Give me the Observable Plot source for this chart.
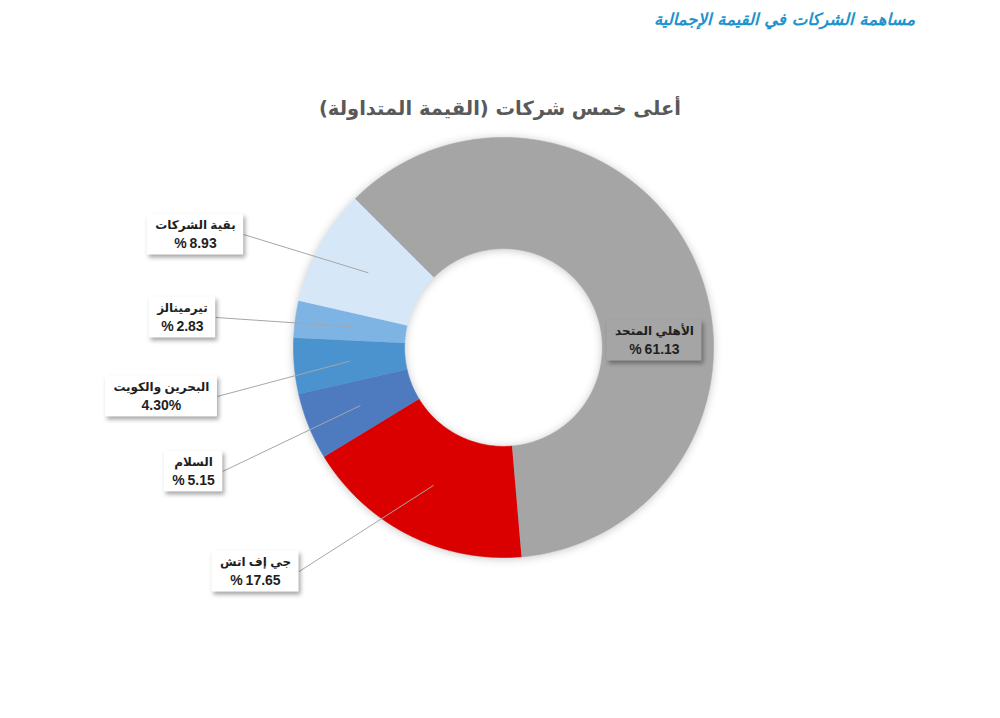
<!DOCTYPE html>
<html lang="ar">
<head>
<meta charset="utf-8">
<script src="https://cdn.jsdelivr.net/npm/d3@7"></script>
<script src="https://cdn.jsdelivr.net/npm/@observablehq/plot@0.6"></script>
<style>
  body { margin: 0; background: #ffffff; }
  #head { position: relative; width: 1000px; height: 130px; }
  #t1 { position: absolute; right: 85px; top: 10px; font: italic bold 16.5px "DejaVu Sans", sans-serif; color: #1E93CC; white-space: nowrap; }
  #t2 { position: absolute; left: 0; width: 1000px; top: 97px; text-align: center; font: bold 19.5px "DejaVu Sans", sans-serif; color: #595959; white-space: nowrap; }
  #chart { width: 1000px; }
</style>
</head>
<body>
<div id="head">
  <div id="t1" dir="rtl">مساهمة الشركات في القيمة الإجمالية</div>
  <div id="t2" dir="rtl">أعلى خمس شركات (القيمة المتداولة)</div>
</div>
<div id="chart"></div>
<script>
// ---- data ----
const names = ["الأهلي المتحد", "جي إف اتش", "السلام", "البحرين والكويت", "تيرمينالز", "بقية الشركات"];
const shares = [61.13, 17.65, 5.15, 4.30, 2.83, 8.93];
const shareLabels = ["%\u200961.13", "%\u200917.65", "%\u20095.15", "4.30%", "%\u20092.83", "%\u20098.93"];
const colors = ["#A5A5A5", "#DA0000", "#4E7AC0", "#4A93CF", "#7DB4E4", "#D6E7F8"];
// label box centres (in donut radius units, manual placement as in the original)
const labelAnchors = [[0.719, 0.033], [-1.181, -1.067], [-1.476, -0.590], [-1.629, -0.233], [-1.529, 0.143], [-1.467, 0.538]];

// ---- layout ----
const W = 1000, H = 588;
const R_PX = 210, CX = 503, CY = 217;
const HOLE = 0.471;
const START = -45 * Math.PI / 180;
const NAME_SIZE = 12, PCT_SIZE = 14;

const arcs = d3.pie().sort(null).value(d => d)
  .startAngle(START).endAngle(START + 2 * Math.PI)(shares);

const ring = [];
arcs.forEach((a, i) => {
  const n = Math.max(2, Math.ceil((a.endAngle - a.startAngle) / (Math.PI / 180)));
  for (let k = 0; k <= n; k++) {
    const t = a.startAngle + (a.endAngle - a.startAngle) * k / n;
    ring.push({name: names[i], x: Math.sin(t), y: Math.cos(t)});
  }
  for (let k = n; k >= 0; k--) {
    const t = a.startAngle + (a.endAngle - a.startAngle) * k / n;
    ring.push({name: names[i], x: HOLE * Math.sin(t), y: HOLE * Math.cos(t)});
  }
});

const ctx = document.createElement("canvas").getContext("2d");
const FONT = "'Liberation Sans', 'DejaVu Sans', sans-serif";
function tw(s, size) { ctx.font = `bold ${size}px ${FONT}`; return ctx.measureText(s).width; }

const boxes = arcs.map((a, i) => {
  const wpx = Math.max(tw(names[i], NAME_SIZE), tw(shareLabels[i], PCT_SIZE)) + 16;
  const hpx = 41;
  const [u, v] = labelAnchors[i];
  const mid = (a.startAngle + a.endAngle) / 2;
  const rm = (1 + HOLE) / 2;
  return {
    i, name: names[i], pct: shareLabels[i], u, v,
    x1: u - wpx / 2 / R_PX, x2: u + wpx / 2 / R_PX,
    y1: v - hpx / 2 / R_PX, y2: v + hpx / 2 / R_PX,
    cx: rm * Math.sin(mid), cy: rm * Math.cos(mid)
  };
});
const leaders = boxes.filter(b => b.i !== 0);

const svg = Plot.plot({
  width: W, height: H, margin: 0,
  style: {fontFamily: FONT, background: "transparent", overflow: "visible"},
  x: {domain: [-1, 1], range: [CX - R_PX, CX + R_PX], axis: null},
  y: {domain: [-1, 1], range: [CY + R_PX, CY - R_PX], axis: null},
  color: {domain: names, range: colors},
  marks: [
    Plot.line(ring, {x: "x", y: "y", z: "name", fill: "name", stroke: "name", strokeWidth: 0.6, curve: "linear"}),
    Plot.link(leaders, {x1: "x2", y1: "v", x2: "cx", y2: "cy", stroke: "#A6A6A6", strokeWidth: 1}),
    Plot.rect(boxes.filter(b => b.i === 0), {x1: "x1", x2: "x2", y1: "y1", y2: "y2", fill: "#A5A5A5"}),
    Plot.rect(leaders, {x1: "x1", x2: "x2", y1: "y1", y2: "y2", fill: "white"}),
    Plot.text(boxes, {x: "u", y: "v", text: "name", dy: -9, fontSize: NAME_SIZE, fontWeight: "bold", fill: "#1F1F1F"}),
    Plot.text(boxes, {x: "u", y: "v", text: "pct", dy: 9, fontSize: PCT_SIZE, fontWeight: "bold", fill: "#1F1F1F"})
  ]
});
document.getElementById("chart").append(svg);
svg.querySelectorAll('g[aria-label="line"]').forEach(g => g.style.filter = "drop-shadow(0px 1px 4px rgba(0,0,0,0.22))");
svg.querySelectorAll('g[aria-label="rect"]').forEach(g => g.style.filter = "drop-shadow(2px 3px 2px rgba(0,0,0,0.35))");
</script>
</body>
</html>
